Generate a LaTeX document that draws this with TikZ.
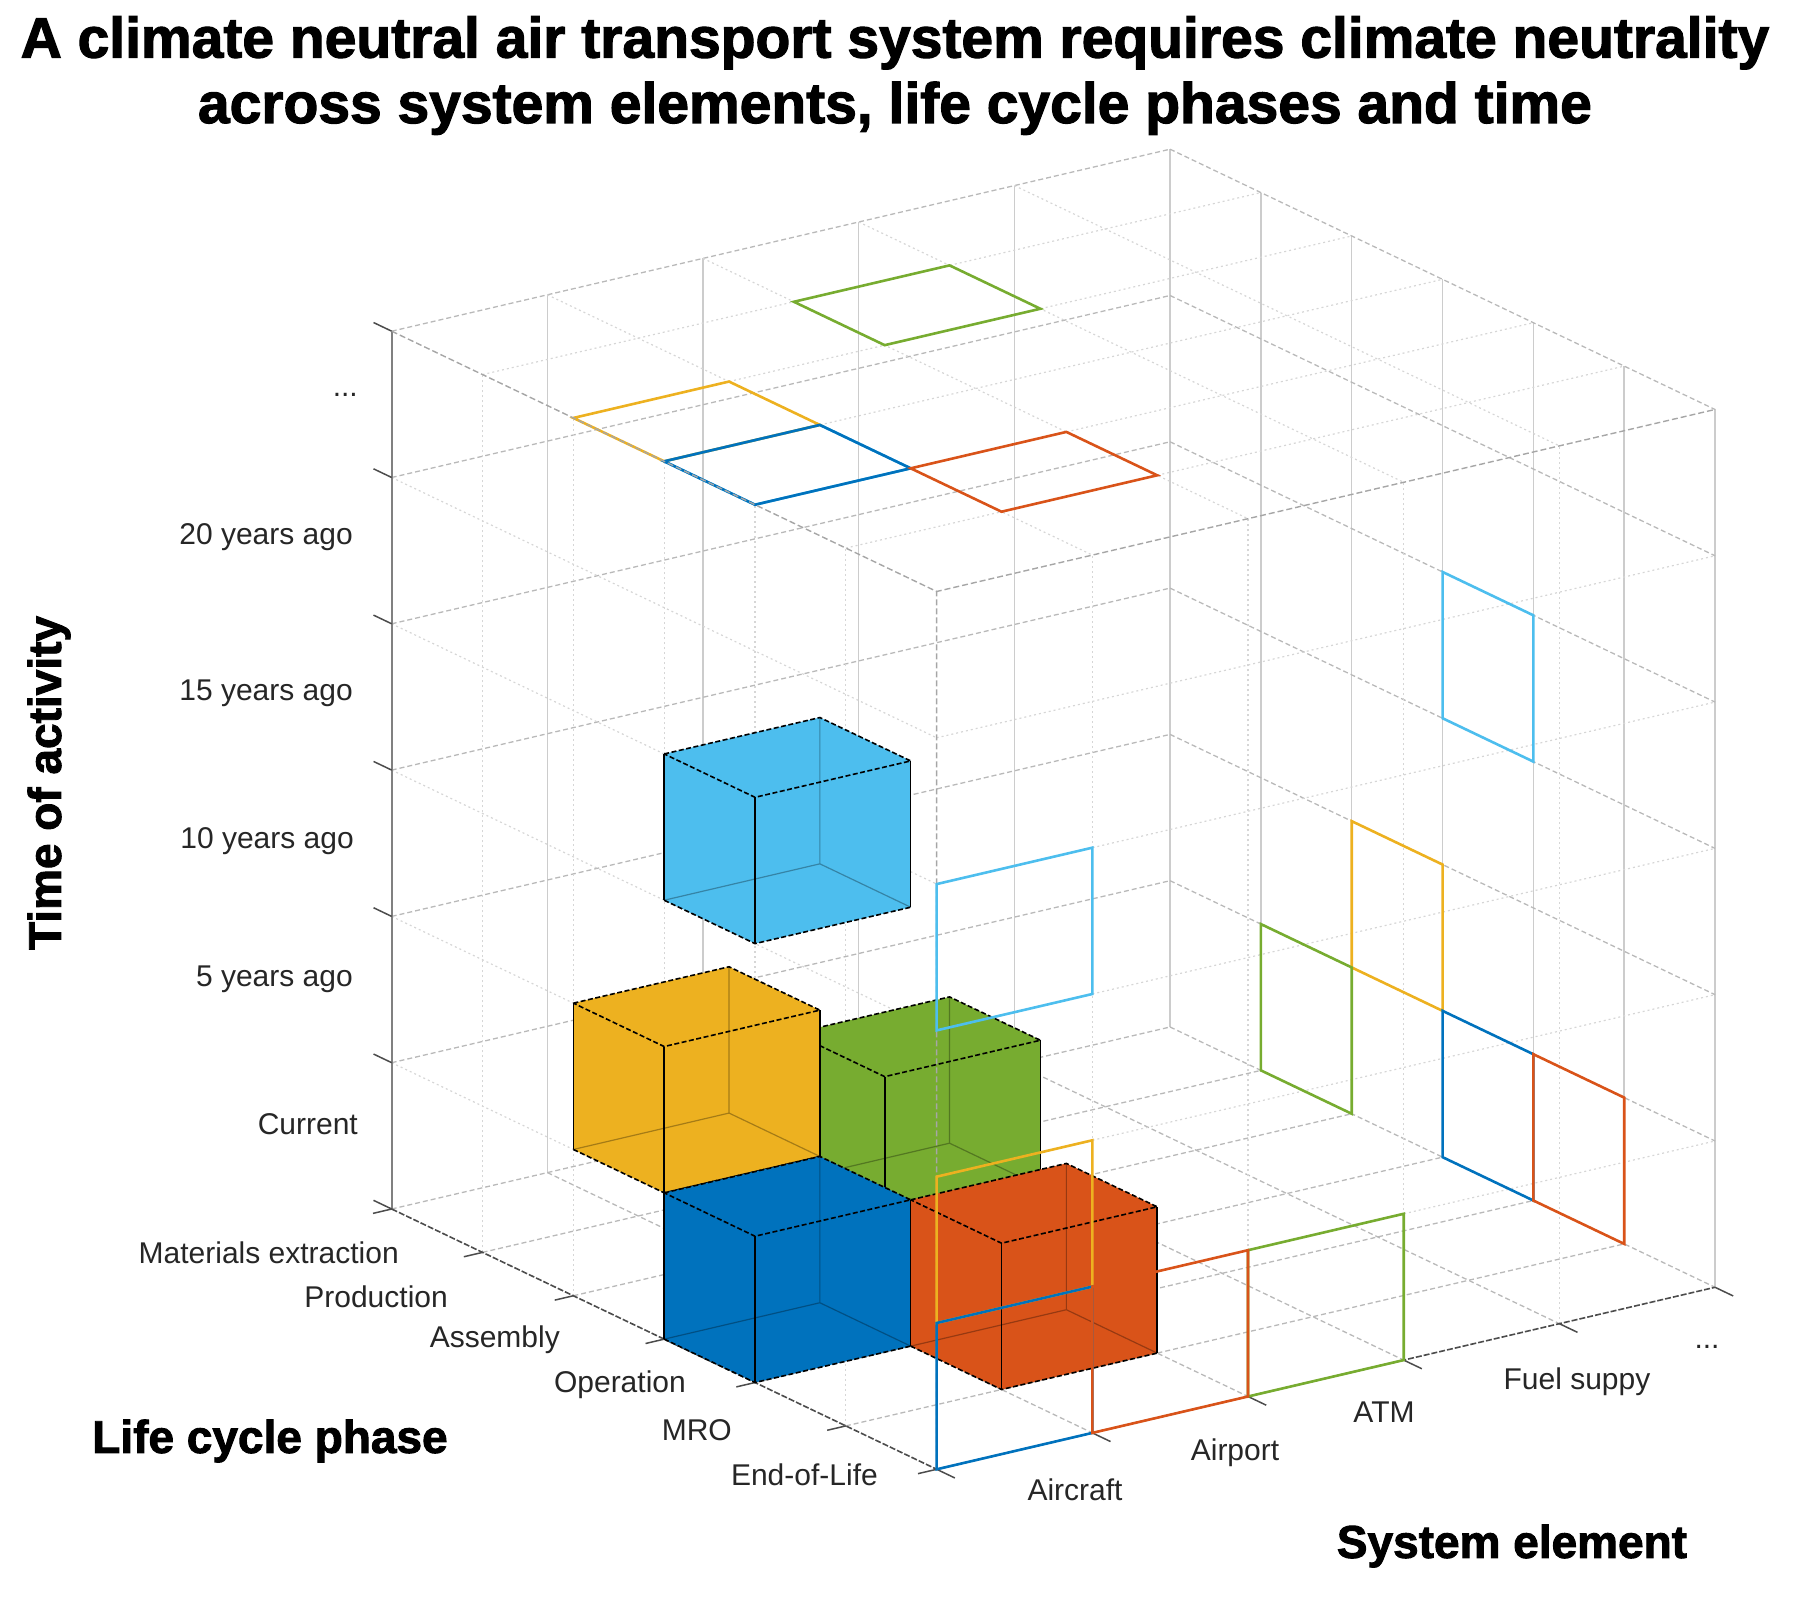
\documentclass[tikz,border=0pt]{standalone}
\usepackage{fontspec}
\setmainfont{Liberation Sans}[BoldFeatures={FakeBold=2}]
\definecolor{mblue}{HTML}{0072BD}
\definecolor{mred}{HTML}{D95319}
\definecolor{myellow}{HTML}{EDB120}
\definecolor{mgreen}{HTML}{77AC30}
\definecolor{mcyan}{HTML}{4DBEEE}
\definecolor{labelgray}{HTML}{262626}
\begin{document}
\begin{tikzpicture}[x=1pt,y=-1pt,
    backv/.style={draw=gray!40,line width=1.5},
    backd/.style={draw=gray!55,line width=1.3,dash pattern=on 5pt off 3pt},
    frontd/.style={draw=gray!32,line width=1.2,dash pattern=on 2pt off 3pt},
    boxedge/.style={draw=gray!70,line width=1.4,dash pattern=on 6pt off 3pt},
    axisv/.style={draw=gray,line width=2},
    axisd/.style={draw=black!70,line width=1.6,dash pattern=on 6pt off 2pt},
    axistick/.style={draw=black!70,line width=1.5},
    wire/.style={line width=2.6,line join=miter},
    edged/.style={draw=black,line width=1.6,dash pattern=on 5pt off 2.5pt},
    edgev/.style={draw=black,line width=1.6},
    hiddenedge/.style={draw=black,draw opacity=0.3,line width=1.2},
    ticklabel/.style={font=\fontsize{30}{36}\selectfont,text=labelgray,inner sep=0pt},
    axistitle/.style={font=\fontsize{46}{54}\selectfont\bfseries,inner sep=0pt},
    titletext/.style={font=\fontsize{57}{66}\selectfont\bfseries,inner sep=0pt}]
  \useasboundingbox (0,0) rectangle (1805,1605);
  % title
  \node[titletext,anchor=base] (title1) at (895,57.6) {A climate neutral air transport system requires climate neutrality};
  \node[titletext,anchor=base] (title2) at (895,123) {across system elements, life cycle phases and time};
  % 3d box: x = system element, y = life cycle phase, z = time
  \begin{scope}[shift={(391.7,1209)},x={(155.67pt,36.4pt)},y={(90.83pt,-43.38pt)},z={(0pt,146.3pt)}]
    % back walls and floor
    \foreach \s in {1,...,5} \draw[backv] (\s,0,0) -- (\s,0,6);
    \foreach \l in {0,...,6} \draw[backv] (5,\l,0) -- (5,\l,6);
    \foreach \t in {0,...,6} {
      \draw[backd] (0,0,\t) -- (5,0,\t);
      \draw[backd] (5,0,\t) -- (5,6,\t);
    }
    \foreach \l in {1,...,5} \draw[backd] (0,\l,0) -- (5,\l,0);
    \foreach \s in {1,...,4} \draw[backd] (\s,0,0) -- (\s,6,0);
    % front planes and top
    \foreach \k in {1,...,5} {
      \draw[frontd] (0,\k,0) -- (0,\k,6);
      \draw[frontd] (0,0,\k) -- (0,6,\k);
      \draw[frontd] (0,6,\k) -- (5,6,\k);
      \draw[frontd] (0,\k,6) -- (5,\k,6);
    }
    \foreach \k in {1,...,4} {
      \draw[frontd] (\k,6,0) -- (\k,6,6);
      \draw[frontd] (\k,0,6) -- (\k,6,6);
    }
    % axes and ticks
    \draw[axisv] (0,0,0) -- (0,0,6);
    \draw[axisd] (0,0,0) -- (0,6,0) -- (5,6,0);
    \foreach \t in {0,...,6} \draw[axistick] (0,0,\t) -- (0,-0.2,\t);
    \foreach \l in {0,...,6} \draw[axistick] (0,\l,0) -- (-0.12,\l,0);
    \foreach \s in {0,...,5} \draw[axistick] (\s,6,0) -- (\s,6.2,0);
    % shadows on top and right wall
    \foreach \s/\l/\t/\col in {0/3/3/mcyan,0/2/1/myellow,2/1/0/mgreen,0/3/0/mblue,1/4/0/mred} {
      \draw[wire,draw=\col] (\s,\l,6) -- (\s+1,\l,6) -- (\s+1,\l+1,6) -- (\s,\l+1,6) -- cycle;
      \draw[wire,draw=\col] (5,\l,\t) -- (5,\l+1,\t) -- (5,\l+1,\t+1) -- (5,\l,\t+1) -- cycle;
    }
    % cubes, back to front
    \foreach \s/\l/\t/\col in {2/1/0/mgreen,0/2/1/myellow,0/3/3/mcyan,0/3/0/mblue,1/4/0/mred} {
      \fill[fill=\col] (\s,\l,\t) -- (\s,\l,\t+1) -- (\s+1,\l,\t+1) -- (\s+1,\l+1,\t+1)
        -- (\s+1,\l+1,\t) -- (\s,\l+1,\t) -- cycle;
      \draw[hiddenedge] (\s,\l,\t) -- (\s+1,\l,\t) -- (\s+1,\l+1,\t) (\s+1,\l,\t) -- (\s+1,\l,\t+1);
      \draw[edged] (\s,\l,\t+1) -- (\s+1,\l,\t+1) -- (\s+1,\l+1,\t+1) -- (\s,\l+1,\t+1) -- cycle
        (\s,\l,\t) -- (\s,\l+1,\t) -- (\s+1,\l+1,\t);
      \draw[edgev] (\s,\l,\t) -- (\s,\l,\t+1) (\s,\l+1,\t) -- (\s,\l+1,\t+1)
        (\s+1,\l+1,\t) -- (\s+1,\l+1,\t+1);
    }
    % front box edges
    \draw[boxedge] (0,6,0) -- (0,6,6) (0,0,6) -- (0,6,6) -- (5,6,6);
    % shadows on front plane
    \foreach \s/\l/\t/\col in {0/3/3/mcyan,0/2/1/myellow,2/1/0/mgreen,0/3/0/mblue,1/4/0/mred}
      \draw[wire,draw=\col] (\s,6,\t) -- (\s+1,6,\t) -- (\s+1,6,\t+1) -- (\s,6,\t+1) -- cycle;
  \end{scope}
  % time labels
  \node[ticklabel,anchor=base east] (tdots) at (358,396) {...};
  \foreach \name/\x/\y/\txt in {t20/353/537/20 years ago,t15/353/693/15 years ago,
      t10/354/841/10 years ago,t5/353/979/5 years ago,t0/358/1124/Current}
    \node[ticklabel,anchor=east] (\name) at (\x,\y) {\txt};
  % life cycle labels
  \foreach \name/\x/\y/\txt in {lmat/399/1253/Materials extraction,lprod/448/1297/Production,
      lass/560/1340/Assembly,lop/686/1385/Operation,lmro/732/1430/MRO,leol/878/1475/End-of-Life}
    \node[ticklabel,anchor=east] (\name) at (\x,\y) {\txt};
  % system labels
  \foreach \name/\x/\y/\txt in {saircraft/1075/1490/Aircraft,sairport/1235/1453/Airport,
      satm/1384/1412/ATM,sfuel/1577/1382/Fuel suppy}
    \node[ticklabel] (\name) at (\x,\y) {\txt};
  \node[ticklabel,anchor=base] (sdots) at (1707,1348) {...};
  % axis titles
  \node[axistitle,rotate=90] (ztitle) at (49,783) {Time of activity};
  \node[axistitle] (ytitle) at (270,1441) {Life cycle phase};
  \node[axistitle] (xtitle) at (1512,1546) {System element};
\end{tikzpicture}
\end{document}
